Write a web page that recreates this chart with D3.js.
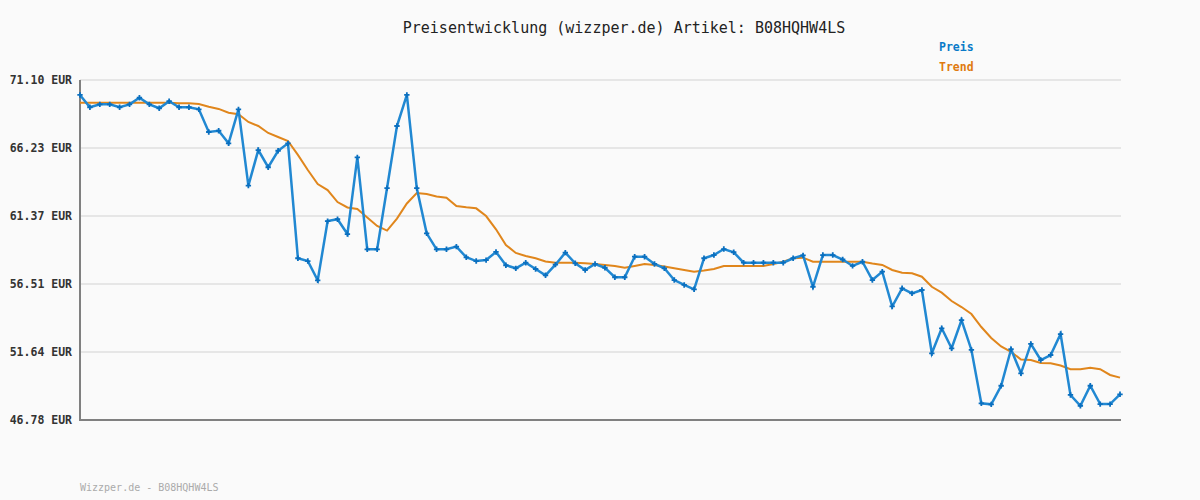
<!DOCTYPE html>
<html><head><meta charset="utf-8">
<script src="https://cdn.jsdelivr.net/npm/d3@7"></script>
<style>html,body{margin:0;padding:0;background:#fafafa;}svg{display:block;}</style>
</head><body>
<svg id="chart" width="1200" height="500"></svg>
<script>
const titleText = "Preisentwicklung (wizzper.de) Artikel: B08HQHW4LS";
const footerText = "Wizzper.de - B08HQHW4LS";
const seriesNames = ["Preis", "Trend"];
const yTicks = [71.10, 66.23, 61.37, 56.51, 51.64, 46.78];
const preis = [70.03,69.15,69.36,69.36,69.15,69.36,69.83,69.36,69.08,69.58,
69.15,69.15,69.00,67.38,67.47,66.57,69.00,63.54,66.09,64.86,
66.04,66.57,58.35,58.15,56.77,61.01,61.14,60.08,65.57,58.99,
58.99,63.37,67.81,70.03,63.37,60.13,58.99,58.99,59.18,58.42,
58.15,58.22,58.80,57.85,57.63,58.03,57.58,57.13,57.89,58.75,
57.99,57.51,57.94,57.67,56.99,56.99,58.46,58.46,57.94,57.63,
56.79,56.44,56.13,58.35,58.58,59.01,58.78,58.03,58.03,58.03,
58.03,58.03,58.35,58.56,56.31,58.58,58.58,58.26,57.80,58.10,
56.79,57.39,54.90,56.20,55.84,56.08,51.55,53.34,51.91,53.93,
51.79,47.97,47.90,49.23,51.84,50.12,52.22,51.07,51.43,52.93,
48.57,47.80,49.23,47.92,47.92,48.62];
const trend = [69.48,69.48,69.48,69.48,69.48,69.48,69.48,69.48,69.48,69.48,
69.43,69.43,69.38,69.19,69.03,68.76,68.65,68.10,67.81,67.31,
67.02,66.74,65.74,64.66,63.66,63.23,62.37,61.98,61.87,61.27,
60.66,60.33,61.19,62.27,63.02,62.95,62.77,62.68,62.09,61.99,
61.92,61.37,60.42,59.30,58.73,58.51,58.35,58.12,58.03,58.03,
58.03,57.99,57.94,57.87,57.80,57.67,57.80,57.94,57.87,57.76,
57.63,57.51,57.39,57.47,57.58,57.80,57.80,57.80,57.80,57.80,
57.94,58.10,58.35,58.39,58.10,58.10,58.10,58.10,58.10,58.10,
57.97,57.87,57.51,57.32,57.27,57.03,56.31,55.89,55.29,54.86,
54.36,53.43,52.65,52.04,51.66,51.11,51.07,50.86,50.84,50.68,
50.41,50.41,50.52,50.41,50.00,49.81];

(function(){
const svg = d3.select("#chart");
const mL = 80, mR = 1120, mT = 80, mB = 420;
const x = d3.scaleLinear().domain([0, preis.length - 1]).range([mL, mR]);
const y = d3.scaleLinear().domain([yTicks[yTicks.length-1], yTicks[0]]).range([mB, mT]);

svg.append("rect").attr("width",1200).attr("height",500).attr("fill","#fafafa");

svg.append("g").selectAll("line").data(yTicks.slice(0,-1)).join("line")
  .attr("x1", mL).attr("x2", mR+1)
  .attr("y1", d => y(d)).attr("y2", d => y(d))
  .attr("stroke", "#e6e6e6").attr("stroke-width", 2);

const yAxis = d3.axisLeft(y).tickValues(yTicks).tickSize(0).tickPadding(8)
  .tickFormat(d => d.toFixed(2) + " EUR");
const gy = svg.append("g").attr("transform", `translate(${mL},0)`).call(yAxis);
gy.select(".domain").remove();
gy.selectAll("text").attr("font-family","'DejaVu Sans Mono', monospace")
  .attr("font-size","11.5px").attr("font-weight","bold").attr("fill","#333");

svg.append("line").attr("x1", mL).attr("x2", mL).attr("y1", mT).attr("y2", mB+1)
  .attr("stroke","#808080").attr("stroke-width",2);
svg.append("line").attr("x1", mL).attr("x2", mR+1).attr("y1", mB).attr("y2", mB)
  .attr("stroke","#808080").attr("stroke-width",2);

const line = d3.line().x((d,i) => x(i)).y(d => y(d));

svg.append("path").datum(trend).attr("d", line).attr("fill","none")
  .attr("stroke","#e0861c").attr("stroke-width",2);
svg.append("path").datum(preis).attr("d", line).attr("fill","none")
  .attr("stroke","#2188d2").attr("stroke-width",2.5);
svg.append("g").selectAll("path").data(preis).join("path")
  .attr("d", d3.symbol(d3.symbolCross, 16))
  .attr("transform", (d,i) => `translate(${x(i)},${y(d)})`)
  .attr("fill","#0a6fbf");

svg.append("text").attr("x", 624).attr("y", 33).attr("text-anchor","middle")
  .attr("font-family","'DejaVu Sans Mono', monospace").attr("font-size","15px")
  .attr("fill","#222").text(titleText);

const legColors = ["#0a7ac8", "#e07a10"];
svg.append("g").selectAll("text").data(seriesNames).join("text")
  .attr("x", 939).attr("y", (d,i) => 51 + i*20)
  .attr("font-family","'DejaVu Sans Mono', monospace").attr("font-size","11.5px")
  .attr("font-weight","bold").attr("fill", (d,i) => legColors[i]).text(d => d);

svg.append("text").attr("x", 80).attr("y", 491)
  .attr("font-family","'DejaVu Sans Mono', monospace").attr("font-size","10px")
  .attr("fill","#aaa").text(footerText);
})();
</script>
</body></html>
